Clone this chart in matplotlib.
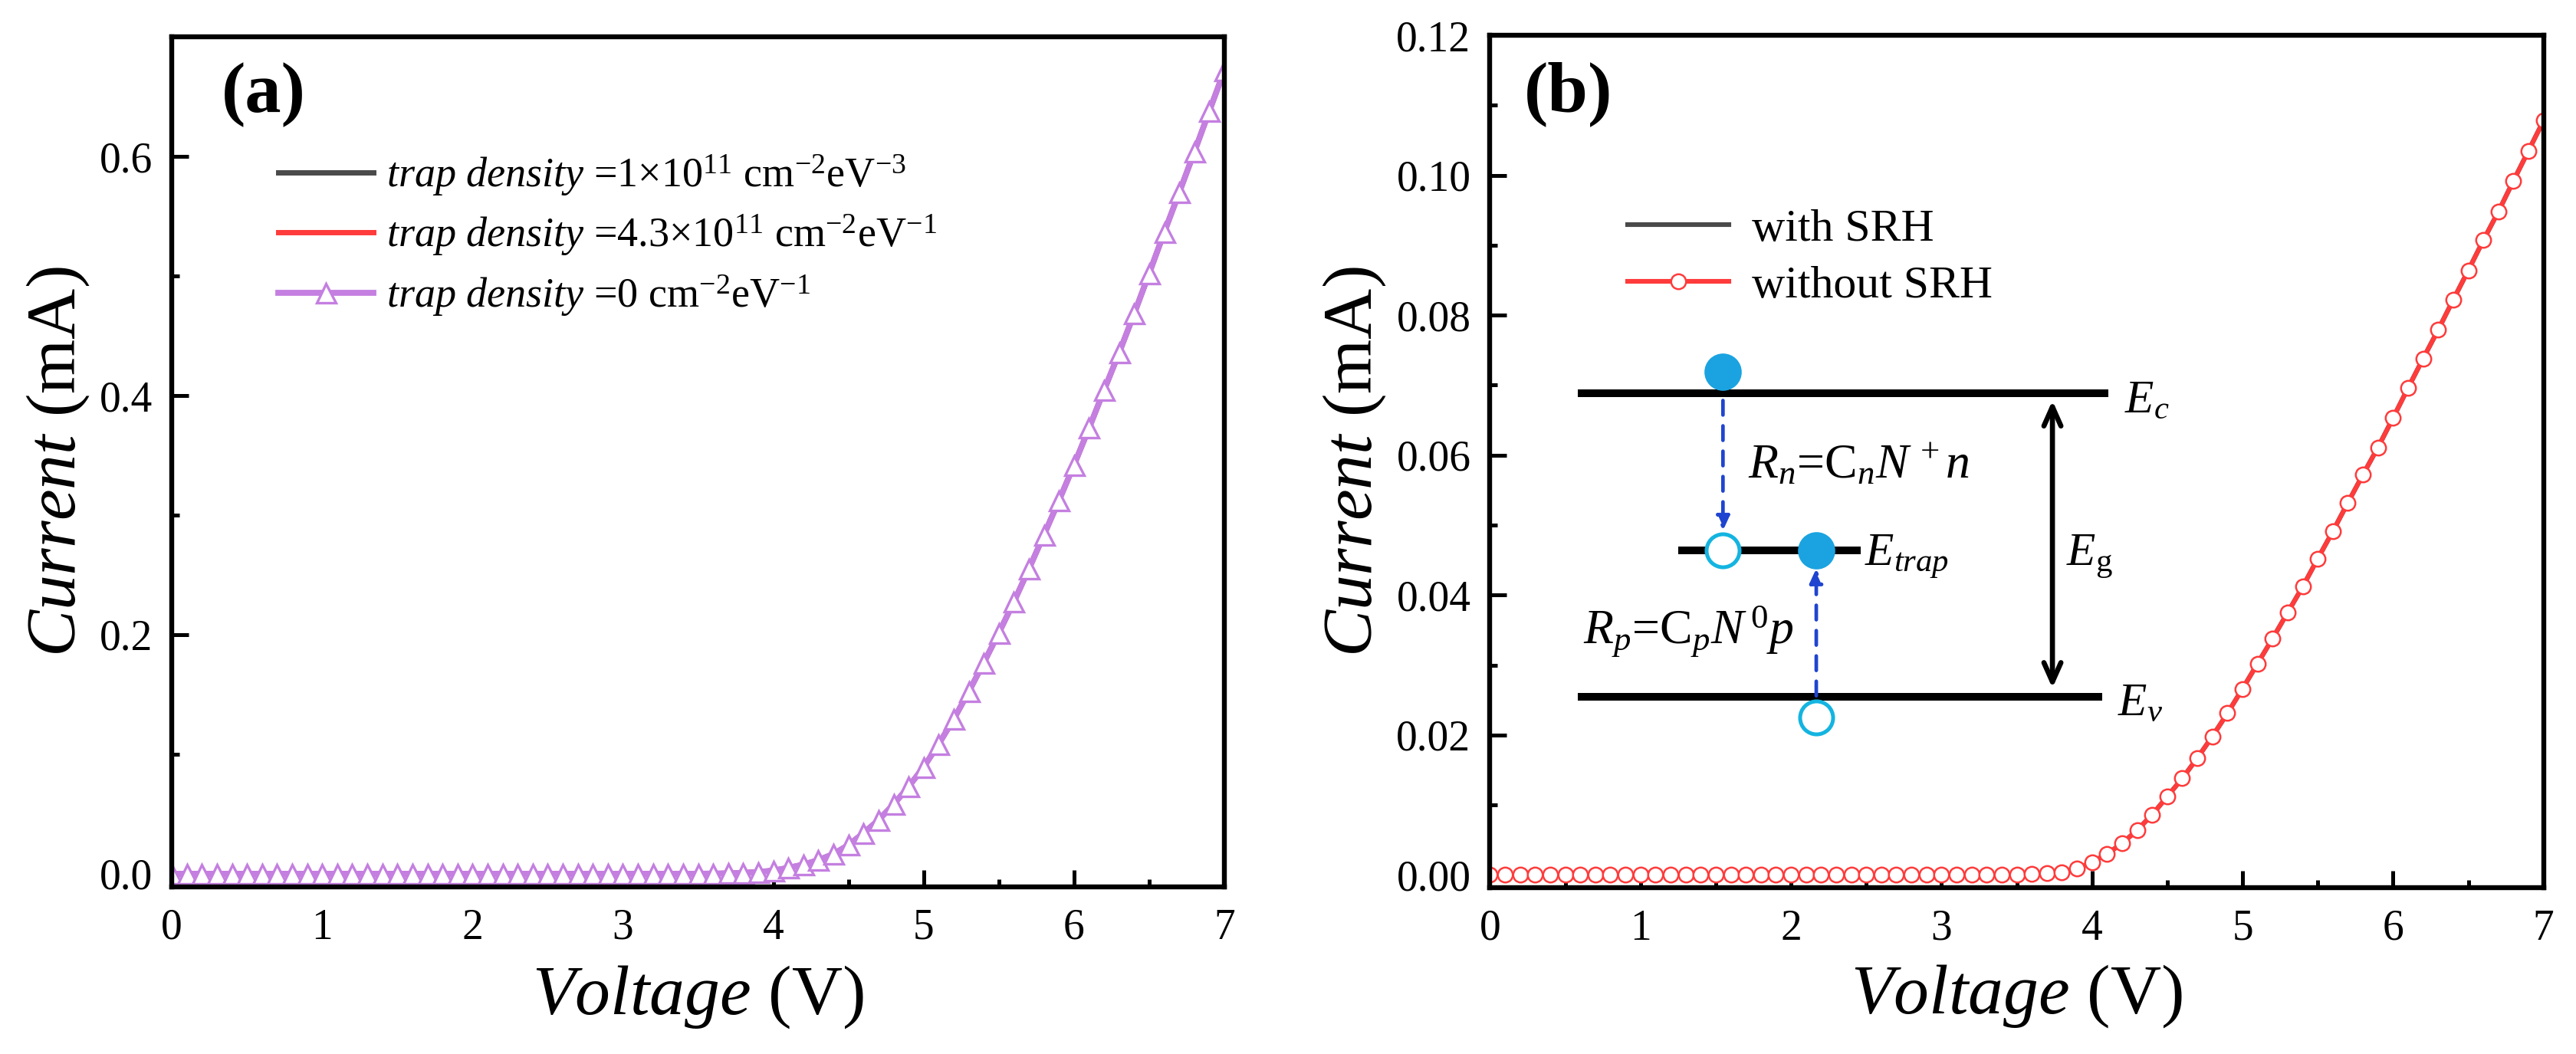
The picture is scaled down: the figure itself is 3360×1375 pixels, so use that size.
import numpy as np
import matplotlib.pyplot as plt
from matplotlib.ticker import MultipleLocator

plt.rcParams['font.family'] = 'Liberation Serif'
plt.rcParams['mathtext.fontset'] = 'custom'
plt.rcParams['mathtext.rm'] = 'Liberation Serif'
plt.rcParams['mathtext.it'] = 'Liberation Serif:italic'
plt.rcParams['mathtext.bf'] = 'Liberation Serif:bold'

# voltage sweep, 0.1 V steps
voltage = np.linspace(0, 7, 71)

# (a) current in mA, the three trap densities lie on top of each other
current_trap0 = [0.0] * 36 + [
    0.0002, 0.0004, 0.0008, 0.0015, 0.0027, 0.0050, 0.0077, 0.0115, 0.0165, 0.0241,
    0.0340, 0.0450, 0.0580, 0.0729, 0.0892, 0.1085, 0.1293, 0.1523, 0.1765, 0.2015,
    0.2274, 0.2550, 0.2834, 0.3122, 0.3419, 0.3728, 0.4045, 0.4358, 0.4684, 0.5022,
    0.5365, 0.5699, 0.6037, 0.6380, 0.6720]
current_trap1e11 = list(current_trap0)
current_trap43e11 = list(current_trap0)

# (b) current in mA with / without SRH recombination
current_srh = [0.0] * 36 + [
    0.0001, 0.0002, 0.0004, 0.0009, 0.0018, 0.0030, 0.0045, 0.0064, 0.0086, 0.0112,
    0.0138, 0.0167, 0.0198, 0.0231, 0.0266, 0.0302, 0.0338, 0.0375, 0.0412, 0.0452,
    0.0491, 0.0532, 0.0572, 0.0611, 0.0653, 0.0696, 0.0738, 0.0779, 0.0822, 0.0864,
    0.0907, 0.0948, 0.0992, 0.1035, 0.1078]
current_no_srh = list(current_srh)

labels_a = [r"$\mathit{trap\ density}$ =1$\times$10$^{11}$ cm$^{-2}$eV$^{-3}$",
            r"$\mathit{trap\ density}$ =4.3$\times$10$^{11}$ cm$^{-2}$eV$^{-1}$",
            r"$\mathit{trap\ density}$ =0 cm$^{-2}$eV$^{-1}$"]
labels_b = ["with SRH", "without SRH"]

PURPLE = "#C47FE0"
RED = "#FF3B3B"
DARK = "#4A4A4A"

fig = plt.figure(figsize=(16.8, 6.875), dpi=200)
ax1 = fig.add_axes([0.0667, 0.1585, 0.4086, 0.8065])
ax2 = fig.add_axes([0.5784, 0.158, 0.4090, 0.8085])


def style(ax):
    for s in ax.spines.values():
        s.set_linewidth(2.3)
    ax.tick_params(which='both', direction='in', top=False, right=False,
                   labelsize=20, width=1.8)
    ax.tick_params(axis='x', pad=10)
    ax.tick_params(axis='y', pad=9)
    ax.tick_params(which='major', length=8)
    ax.tick_params(which='minor', length=3.5)
    ax.xaxis.set_major_locator(MultipleLocator(1))
    ax.xaxis.set_minor_locator(MultipleLocator(0.5))
    ax.set_xlim(0, 7)
    ax.set_xlabel(r"$\mathit{Voltage}$ (V)", fontsize=33)
    ax.set_ylabel(r"$\mathit{Current}$ (mA)", fontsize=33)
    ax.xaxis.label.set_va('center')
    ax.yaxis.label.set_va('center')


# ---- (a)
style(ax1)
ax1.plot(voltage, current_trap1e11, color=DARK, lw=2.5, label=labels_a[0])
ax1.plot(voltage, current_trap43e11, color=RED, lw=2.5, label=labels_a[1])
ax1.plot(voltage, current_trap0, color=PURPLE, lw=2.8, marker='^', ms=9,
         mfc='white', mec=PURPLE, mew=1.2, label=labels_a[2])
ax1.set_ylim(-0.011, 0.7)
ax1.yaxis.set_major_locator(MultipleLocator(0.2))
ax1.yaxis.set_minor_locator(MultipleLocator(0.1))
ax1.yaxis.set_major_formatter(plt.FormatStrFormatter('%.1f'))
ax1.yaxis.set_label_coords(-0.108, 0.5)
ax1.xaxis.set_label_coords(0.5, -0.129)
ax1.text(0.047, 0.932, "(a)", transform=ax1.transAxes, fontsize=34,
         fontweight='bold', va='center', ha='left')
ax1.legend(loc='center left', bbox_to_anchor=(0.101, 0.7665), frameon=False,
           fontsize=19.5, handlelength=2.3, handletextpad=0.3, labelspacing=0.36,
           borderpad=0, borderaxespad=0, numpoints=1)

# ---- (b)
style(ax2)
ax2.plot(voltage, current_srh, color=DARK, lw=2.2, label=labels_b[0])
ax2.plot(voltage, current_no_srh, color=RED, lw=2.2, marker='o', ms=7,
         mfc='white', mec=RED, mew=0.9, label=labels_b[1])
ax2.set_ylim(-0.0018, 0.12)
ax2.yaxis.set_major_locator(MultipleLocator(0.02))
ax2.yaxis.set_minor_locator(MultipleLocator(0.01))
ax2.yaxis.set_major_formatter(plt.FormatStrFormatter('%.2f'))
ax2.yaxis.set_label_coords(-0.129, 0.5)
ax2.xaxis.set_label_coords(0.5, -0.128)
ax2.text(0.032, 0.931, "(b)", transform=ax2.transAxes, fontsize=34,
         fontweight='bold', va='center', ha='left')
ax2.legend(loc='center left', bbox_to_anchor=(0.131, 0.7388), frameon=False,
           fontsize=21.5, handlelength=2.2, handletextpad=0.5, labelspacing=0.33,
           borderpad=0, borderaxespad=0, numpoints=1)

# SRH band diagram inset (drawn in data coordinates of panel b)
E_C, E_V, E_T = 0.0688, 0.0254, 0.0464
CYAN_FILL = "#1AA3E0"
CYAN_EDGE = "#14B4E0"
BLUE = "#1F45D0"
ax2.plot([0.583, 4.108], [E_C, E_C], color='black', lw=3.6, solid_capstyle='butt')
ax2.plot([0.583, 4.068], [E_V, E_V], color='black', lw=3.6, solid_capstyle='butt')
ax2.plot([1.25, 2.461], [E_T, E_T], color='black', lw=3.6, solid_capstyle='butt')

ax2.annotate("", xy=(1.548, 0.0492), xytext=(1.548, 0.0678),
             arrowprops=dict(arrowstyle='-|>,head_width=0.25,head_length=0.55',
                             color=BLUE, lw=1.7, ls=(0, (4, 3)),
                             shrinkA=0, shrinkB=0))
ax2.annotate("", xy=(2.168, 0.0438), xytext=(2.168, 0.0256),
             arrowprops=dict(arrowstyle='-|>,head_width=0.25,head_length=0.55',
                             color=BLUE, lw=1.7, ls=(0, (4, 3)),
                             shrinkA=0, shrinkB=0))
ax2.annotate("", xy=(3.737, 0.0678), xytext=(3.737, 0.0267),
             arrowprops=dict(arrowstyle='<->,head_width=0.4,head_length=0.9',
                             color='black', lw=2.4, shrinkA=0, shrinkB=0))

ax2.plot([1.548], [0.0719], 'o', ms=16.5, color=CYAN_FILL, mec=CYAN_FILL, zorder=5)
ax2.plot([2.168], [E_T], 'o', ms=16.5, color=CYAN_FILL, mec=CYAN_FILL, zorder=5)
ax2.plot([1.548], [E_T], 'o', ms=15.5, mfc='white', mec=CYAN_EDGE, mew=1.8, zorder=5)
ax2.plot([2.168], [0.0225], 'o', ms=15.5, mfc='white', mec=CYAN_EDGE, mew=1.8, zorder=5)

ax2.text(4.216, 0.0678, r"$E_c$", fontsize=22, va='center', ha='left')
ax2.text(4.17, 0.0245, r"$E_v$", fontsize=22, va='center', ha='left')
ax2.text(2.49, 0.0455, r"$E_{trap}$", fontsize=22, va='center', ha='left')
ax2.text(3.83, 0.0455, r"$E_{\mathrm{g}}$", fontsize=22, va='center', ha='left')
ax2.text(1.715, 0.0585, r"$R_n$=C$_n$$N^{\,+}$$n$", fontsize=23, va='center', ha='left')
ax2.text(0.62, 0.0348, r"$R_p$=C$_p$$N^{\,0}$$p$", fontsize=23, va='center', ha='left')

fig.savefig("out.png", dpi=200)
